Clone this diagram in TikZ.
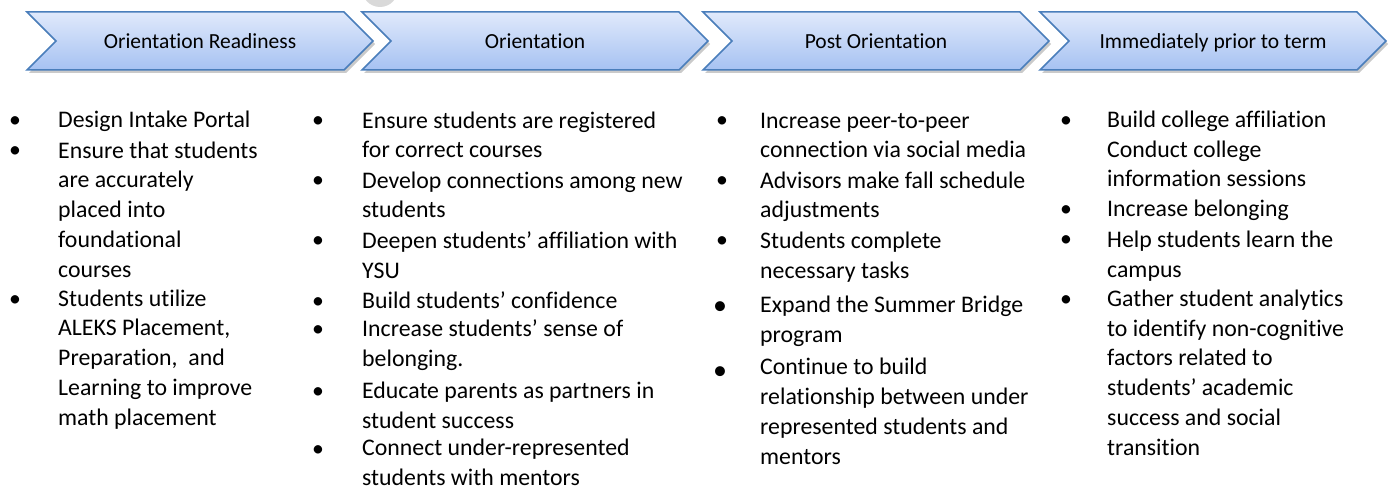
\documentclass[tikz,border=0pt]{standalone}
\usepackage{fontspec}
\setmainfont{Carlito}[Ligatures=NoCommon]
\usepackage{tikz}
\usetikzlibrary{shapes.symbols,shadows}
\definecolor{stepline}{HTML}{4A7EBB}
\definecolor{steptop}{HTML}{E0E9FB}
\definecolor{stepbot}{HTML}{A6C2F2}

\begin{document}
\begin{tikzpicture}[x=1pt,y=-1pt]
\tikzstyle{phase}=[signal, signal from=west, signal to=east, signal pointer angle=90,
  minimum width=346pt, minimum height=58pt, inner sep=0pt, draw=stepline, line width=1.5pt,
  top color=steptop, bottom color=stepbot, text height=18pt, text depth=2pt,
  drop shadow={shadow xshift=2pt, shadow yshift=-3pt, opacity=0.35, fill=black!60},
  font=\fontsize{21.5pt}{26pt}\selectfont]
% multi-line items sit on the baseline of their last line
\tikzstyle{item}=[anchor=base west, align=left, inner sep=0pt,
  font=\fontsize{23.8pt}{29.7pt}\selectfont]
\tikzstyle{dot}=[anchor=base, inner sep=0pt, font=\fontsize{23.8pt}{29.7pt}\selectfont]
\tikzstyle{bigdot}=[dot, font=\fontsize{28pt}{29.7pt}\selectfont]

\useasboundingbox (0,0) rectangle (1390,489);
\fill[black!15] (380,-11) circle (18);

% phases
\node[phase] (ready) at (200,41)  {Orientation Readiness};
\node[phase] (orient) at (535,41) {Orientation};
\node[phase] (post) at (876,41)   {Post Orientation};
\node[phase] (prior) at (1213,41) {Immediately prior to term};

% orientation readiness
\node[dot] (r1d) at (15,128) {\textbullet};
\node[item] (r1) at (58,128) {Design Intake Portal};
\node[dot] (r2d) at (15,158) {\textbullet};
\node[item] (r2) at (58,277) {Ensure that students\\are accurately\\placed into\\foundational\\courses};
\node[dot] (r3d) at (15,306) {\textbullet};
\node[item] (r3) at (58,425) {Students utilize\\ALEKS Placement,\\Preparation,~ and\\Learning to improve\\math placement};

% orientation
\node[dot] (o1d) at (318,128) {\textbullet};
\node[item] (o1) at (362,158) {Ensure students are registered\\for correct courses};
\node[dot] (o2d) at (318,188) {\textbullet};
\node[item] (o2) at (362,218) {Develop connections among new\\students};
\node[dot] (o3d) at (318,248) {\textbullet};
\node[item] (o3) at (362,278) {Deepen students’ affiliation with\\YSU};
\node[dot] (o4d) at (318,308) {\textbullet};
\node[item] (o4) at (362,308) {Build students’ confidence};
\node[dot] (o5d) at (318,336) {\textbullet};
\node[item] (o5) at (362,366) {Increase students’ sense of\\belonging.};
\node[dot] (o6d) at (318,398) {\textbullet};
\node[item] (o6) at (362,428) {Educate parents as partners in\\student success};
\node[dot] (o7d) at (318,456) {\textbullet};
\node[item] (o7) at (362,485) {Connect under-represented\\students with mentors};

% post orientation
\node[dot] (p1d) at (722,128) {\textbullet};
\node[item] (p1) at (760,158) {Increase peer-to-peer\\connection via social media};
\node[dot] (p2d) at (722,188) {\textbullet};
\node[item] (p2) at (760,218) {Advisors make fall schedule\\adjustments};
\node[dot] (p3d) at (722,248) {\textbullet};
\node[item] (p3) at (760,278) {Students complete\\necessary tasks};
\node[bigdot] (p4d) at (720,314) {\textbullet};
\node[item] (p4) at (760,342) {Expand the Summer Bridge\\program};
\node[bigdot] (p5d) at (720,379) {\textbullet};
\node[item] (p5) at (760,464) {Continue to build\\relationship between under\\represented students and\\mentors};

% immediately prior to term
\node[dot] (t1d) at (1066,128) {\textbullet};
\node[item] (t1) at (1107,187) {Build college affiliation\\Conduct college\\information sessions};
\node[dot] (t2d) at (1066,217) {\textbullet};
\node[item] (t2) at (1107,217) {Increase belonging};
\node[dot] (t3d) at (1066,247) {\textbullet};
\node[item] (t3) at (1107,277) {Help students learn the\\campus};
\node[dot] (t4d) at (1066,306) {\textbullet};
\node[item] (t4) at (1107,455) {Gather student analytics\\to identify non-cognitive\\factors related to\\students’ academic\\success and social\\transition};
\end{tikzpicture}
\end{document}
